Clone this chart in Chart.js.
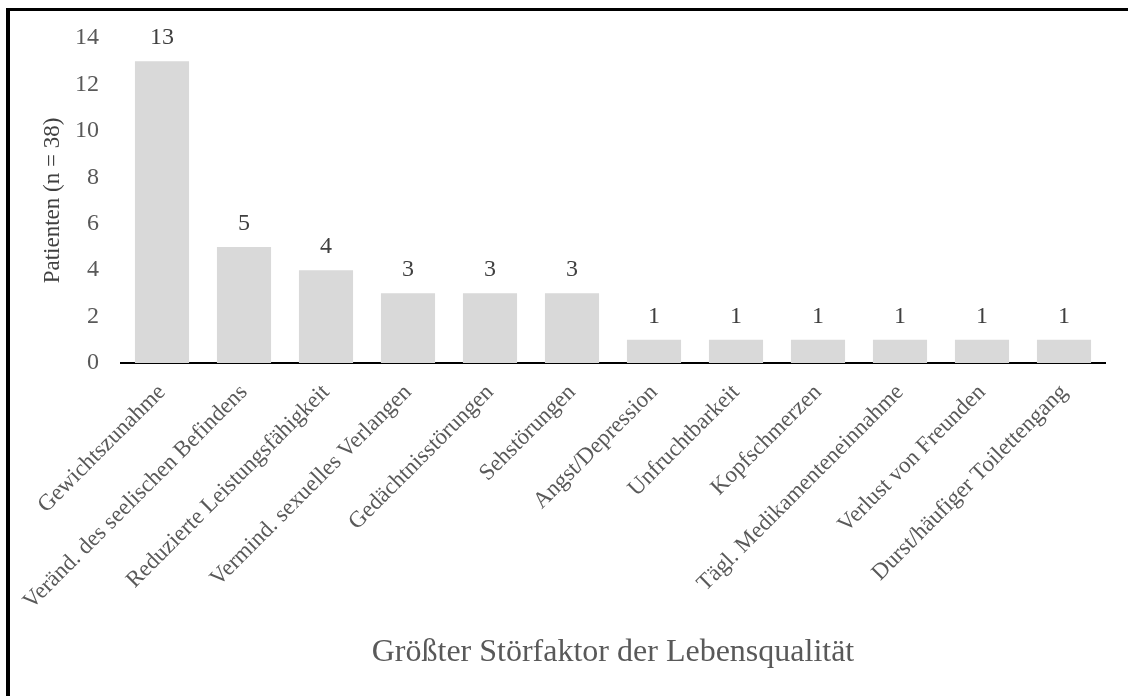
<!DOCTYPE html>
<html>
<head>
<meta charset="utf-8">
<script src="https://cdn.jsdelivr.net/npm/chart.js@4/dist/chart.umd.min.js"></script>
<style>
  body { margin: 0; background: #fff; }
  #wrap { position: relative; width: 1128px; height: 696px; }
  #frame { position: absolute; left: 6px; top: 8px; right: 0; bottom: 0; border-left: 4px solid #000; border-top: 3px solid #000; }
  canvas { position: absolute; left: 0; top: 0; }
</style>
</head>
<body>
<div id="wrap">
  <div id="frame"></div>
  <canvas id="myChart" width="1128" height="696"></canvas>
</div>
<script>
const kategorien = [
  'Gewichtszunahme',
  'Veränd. des seelischen Befindens',
  'Reduzierte Leistungsfähigkeit',
  'Vermind. sexuelles Verlangen',
  'Gedächtnisstörungen',
  'Sehstörungen',
  'Angst/Depression',
  'Unfruchtbarkeit',
  'Kopfschmerzen',
  'Tägl. Medikamenteneinnahme',
  'Verlust von Freunden',
  'Durst/häufiger Toilettengang'
]
const patienten = [13, 5, 4, 3, 3, 3, 1, 1, 1, 1, 1, 1]
const yTicks = [0, 2, 4, 6, 8, 10, 12, 14]

const schrift = '"Liberation Serif", "Times New Roman", serif'
const grau = '#595959'

// Werte ueber den Balken
const werteLabels = {
  id: 'werteLabels',
  afterDatasetsDraw(chart) {
    const ctx = chart.ctx
    const meta = chart.getDatasetMeta(0)
    ctx.save()
    ctx.font = '24px ' + schrift
    ctx.fillStyle = '#404040'
    ctx.textAlign = 'center'
    ctx.textBaseline = 'alphabetic'
    meta.data.forEach((bar, i) => {
      ctx.fillText(patienten[i], bar.x, bar.y - 17)
    })
    ctx.restore()
  }
}

const ctx = document.getElementById('myChart')

new Chart(ctx, {
  type: 'bar',
  data: {
    labels: kategorien,
    datasets: [{
      data: patienten,
      backgroundColor: '#d9d9d9',
      borderWidth: 0,
      barPercentage: 0.66,
      categoryPercentage: 1
    }]
  },
  options: {
    responsive: false,
    animation: false,
    layout: { padding: { left: 10, right: 23, top: 38, bottom: 0 } },
    plugins: {
      legend: { display: false },
      tooltip: { enabled: false }
    },
    scales: {
      y: {
        min: 0,
        max: 14,
        afterBuildTicks(scale) {
          scale.ticks = yTicks.map(v => ({ value: v }))
        },
        afterFit(scale) { scale.width = 111 },
        grid: { display: false },
        border: { display: false },
        ticks: { color: grau, font: { family: schrift, size: 24 }, padding: 14 },
        title: {
          display: true,
          text: 'Patienten (n = 38)',
          color: '#404040',
          font: { family: schrift, size: 23 },
          padding: { top: 29, bottom: 0 }
        }
      },
      x: {
        afterFit(scale) { scale.height = 333 },
        grid: { display: false },
        border: { display: true, color: '#000', width: 2 },
        ticks: {
          color: grau,
          font: { family: schrift, size: 23 },
          minRotation: 45,
          maxRotation: 45,
          autoSkip: false,
          padding: 8
        },
        title: {
          display: true,
          text: 'Größter Störfaktor der Lebensqualität',
          color: grau,
          font: { family: schrift, size: 32 },
          padding: { top: 0, bottom: 24 }
        }
      }
    }
  },
  plugins: [werteLabels]
})
</script>
</body>
</html>
